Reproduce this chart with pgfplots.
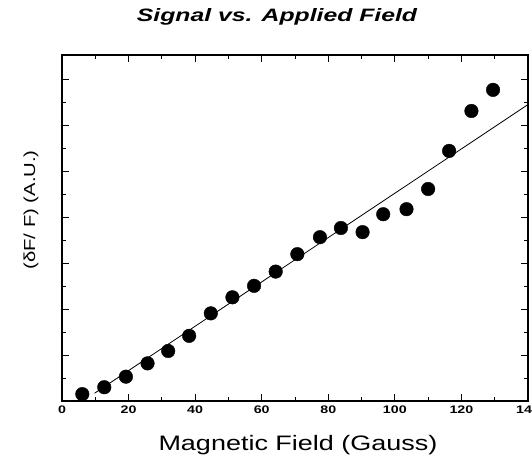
\documentclass[border=0pt]{standalone}
\usepackage{fontspec}
\setmainfont{Liberation Sans}
\usepackage{pgfplots}
\pgfplotsset{compat=1.18}
\begin{document}
\begin{tikzpicture}
\begin{axis}[
  anchor=south west, at={(0,0)},
  scale only axis,
  width=466bp, height=346bp,
  xmin=0, xmax=140, ymin=0, ymax=7.54,
  axis line style={line width=1.6bp},
  xtick={0,20,...,140},
  xticklabels={0,20,40,60,80,100,120,140},
  minor x tick num=1,
  ytick={0,1,...,7},
  yticklabels={},
  minor y tick num=1,
  tick align=inside,
  major tick length=7bp,
  minor tick length=4bp,
  tick style={line width=0.9bp, black},
  xticklabel style={font=\fontsize{11}{13}\selectfont\bfseries, xscale=1.3, yshift=-1bp},
  clip=false,
]
\addplot[only marks, mark=*, mark size=6.8bp, black] coordinates {
(6.1,0.15) (12.7,0.30) (19.2,0.53) (25.7,0.82) (31.9,1.09) (38.2,1.42)
(44.7,1.91) (51.2,2.26) (57.7,2.51) (64.2,2.82) (70.7,3.20) (77.5,3.57)
(83.8,3.77) (90.3,3.68) (96.5,4.07) (103.5,4.18) (110.0,4.62) (116.3,5.45)
(123.0,6.32) (129.5,6.78)
};
\addplot[black, line width=0.8bp] coordinates {(9.8,0.17) (140,6.46)};
\end{axis}
\node[font=\fontsize{18}{20}\selectfont\bfseries\itshape, xscale=1.38] at (215bp,384bp) {Signal vs. Applied Field};
\node[font=\fontsize{21}{24}\selectfont, xscale=1.29] at (236bp,-44bp) {Magnetic Field (Gauss)};
\node[font=\fontsize{16}{18}\selectfont, rotate=90, xscale=1.27] at (-31bp,191bp) {(δF/ F) (A.U.)};
\pgfresetboundingbox
\path (-62bp,-55bp) rectangle (470bp,401bp);
\end{tikzpicture}
\end{document}
